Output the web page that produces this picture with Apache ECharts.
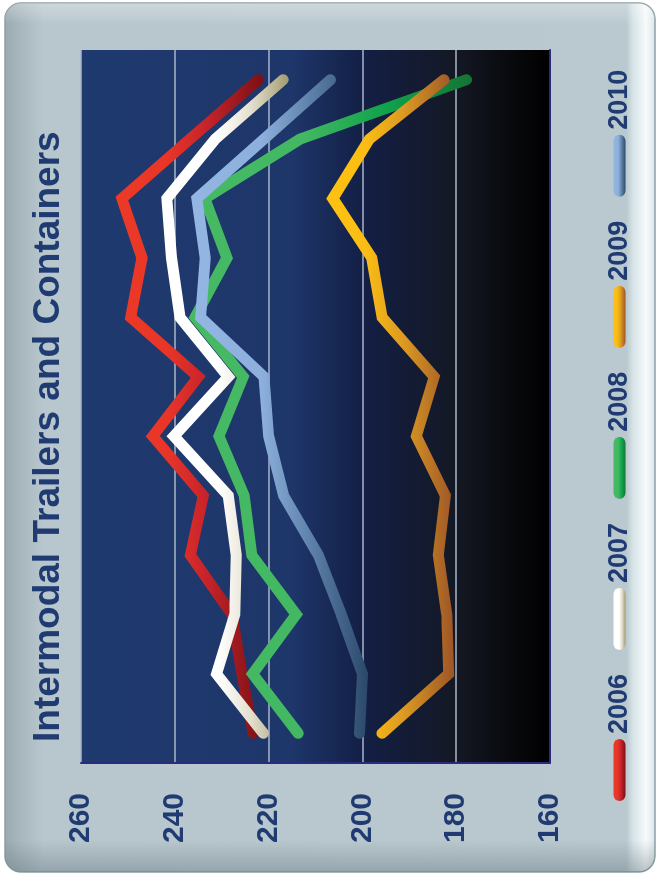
<!DOCTYPE html>
<html>
<head>
<meta charset="utf-8">
<title>Intermodal Trailers and Containers</title>
<script src="https://cdn.jsdelivr.net/npm/echarts@6/dist/echarts.min.js"></script>
<style>
  html, body { margin: 0; padding: 0; background: #ffffff; width: 659px; height: 884px; overflow: hidden; }
  /* The chart is laid out landscape and turned a quarter turn counter-clockwise */
  #chart { position: absolute; left: 0; top: 0; width: 884px; height: 659px;
           transform-origin: 0 0; transform: translate(0, 884px) rotate(-90deg); }
</style>
</head>
<body>
<div id="chart"></div>
<script>
// Weekly-average carloads by month (thousands)
const months = ['Jan', 'Feb', 'Mar', 'Apr', 'May', 'Jun', 'Jul', 'Aug', 'Sep', 'Oct', 'Nov', 'Dec'];
const years = ['2006', '2007', '2008', '2009', '2010'];

const y2006 = [223.3, 225.7, 227.8, 236.7, 233.9, 244.7, 235.0, 249.4, 247.0, 251.3, 236.8, 222.2];
const y2007 = [221.1, 231.1, 227.2, 226.9, 228.6, 240.2, 228.6, 238.9, 240.7, 241.7, 231.4, 216.9];
const y2008 = [213.7, 223.4, 214.1, 223.6, 225.2, 230.6, 225.4, 235.7, 228.9, 233.6, 213.3, 177.8];
const y2009 = [195.8, 181.6, 182.0, 183.8, 182.3, 188.5, 184.7, 195.8, 198.0, 206.3, 198.5, 182.6];
const y2010 = [200.6, 200.0, 204.5, 209.4, 216.8, 220.0, 221.0, 234.5, 233.5, 235.3, 221.0, 206.8];

const seriesValues = [y2006, y2007, y2008, y2009, y2010];

// Value axis ticks
const valueMin = 160;
const valueMax = 260;
const valueStep = 20;

const navy = '#1f3b72';

function vGrad(stops) {
  return new echarts.graphic.LinearGradient(0, 0, 0, 1,
    stops.map(s => ({ offset: s[0], color: s[1] })));
}

// Each line shades from bright (high values) to deep (low values)
const lineGradients = [
  [[0, '#ec3a26'], [0.35, '#e83528'], [0.6, '#c8242a'], [1, '#7a1015']],
  [[0, '#ffffff'], [0.45, '#ffffff'], [0.7, '#e4e0cf'], [1, '#a39b70']],
  [[0, '#46b964'], [0.4, '#43b862'], [0.7, '#0fa24b'], [1, '#157336']],
  [[0, '#fdc212'], [0.3, '#fbbd14'], [0.6, '#dc9a22'], [1, '#9c5527']],
  [[0, '#93b7e2'], [0.4, '#8cb0db'], [0.7, '#5a7da6'], [1, '#2b486a']]
];

const capsule = 'path://M6 0H56A6 6 0 0 1 56 12H6A6 6 0 0 1 6 0Z';

const series = years.map((name, i) => ({
  name: name,
  type: 'line',
  data: seriesValues[i],
  showSymbol: false,
  symbol: 'none',
  silent: true,
  itemStyle: { color: vGrad(lineGradients[i]) },
  lineStyle: { width: 11, color: vGrad(lineGradients[i]), cap: 'round', join: 'miter' },
  emphasis: { disabled: true }
}));

const chart = echarts.init(document.getElementById('chart'), null, { renderer: 'canvas' });

chart.setOption({
  animation: false,
  backgroundColor: '#ffffff',
  graphic: [
    {
      type: 'rect', z: -1, silent: true,
      shape: { x: 12, y: 5, width: 869, height: 650, r: 16 },
      style: {
        fill: vGrad([[0, '#9aaab0'], [0.025, '#a8b7bd'], [0.06, '#b8c7cd'], [0.955, '#bac9cf'],
                     [0.965, '#d6e3e7'], [0.985, '#f6fbfc'], [1, '#d8e4e8']]),
        stroke: '#8e9ea4', lineWidth: 1.5
      }
    },
    {
      type: 'rect', z: -1, silent: true,
      shape: { x: 12, y: 5, width: 869, height: 650, r: 16 },
      style: {
        fill: new echarts.graphic.LinearGradient(0, 0, 1, 0, [
          { offset: 0, color: 'rgba(95,112,120,0.4)' },
          { offset: 0.037, color: 'rgba(95,112,120,0)' },
          { offset: 0.975, color: 'rgba(255,255,255,0)' },
          { offset: 1, color: 'rgba(255,255,255,0.3)' }
        ])
      }
    }
  ],
  title: {
    text: 'Intermodal Trailers and Containers',
    left: 142,
    top: 30,
    padding: 0,
    textStyle: { fontFamily: 'Liberation Sans, Arial, sans-serif', fontSize: 37, fontWeight: 'bold', color: navy }
  },
  legend: {
    left: 83,
    top: 606,
    padding: 0,
    itemWidth: 62,
    itemHeight: 12,
    itemGap: 24,
    icon: capsule,
    selectedMode: false,
    data: years.map((name, i) => ({ name: name, itemStyle: { color: vGrad(lineGradients[i]), borderWidth: 0 } })),
    textStyle: { fontFamily: 'Liberation Sans, Arial, sans-serif', fontSize: 27, fontWeight: 'bold', color: navy, padding: [0, 0, 0, 0] }
  },
  grid: {
    show: true,
    left: 121,
    top: 81,
    width: 713,
    height: 469,
    borderWidth: 0,
    backgroundColor: vGrad([[0, '#1f3a6f'], [0.45, '#1e366a'], [0.6, '#131f45'], [0.8, '#141824'], [0.92, '#08090c'], [1, '#000000']])
  },
  xAxis: {
    type: 'category',
    data: months,
    boundaryGap: true,
    axisLine: { show: true, lineStyle: { color: '#2b2a7e', width: 2 } },
    axisTick: { show: false },
    axisLabel: { show: false },
    splitLine: { show: false }
  },
  yAxis: {
    type: 'value',
    min: valueMin,
    max: valueMax,
    interval: valueStep,
    axisLine: { show: true, lineStyle: { color: '#2b2a7e', width: 2 } },
    axisTick: { show: false },
    axisLabel: {
      margin: 30,
      fontFamily: 'Liberation Sans, Arial, sans-serif',
      fontSize: 30,
      fontWeight: 'bold',
      color: navy
    },
    splitLine: { show: true, lineStyle: { color: '#a9b6c8', width: 1.5 } }
  },
  series: series
});
</script>
</body>
</html>
